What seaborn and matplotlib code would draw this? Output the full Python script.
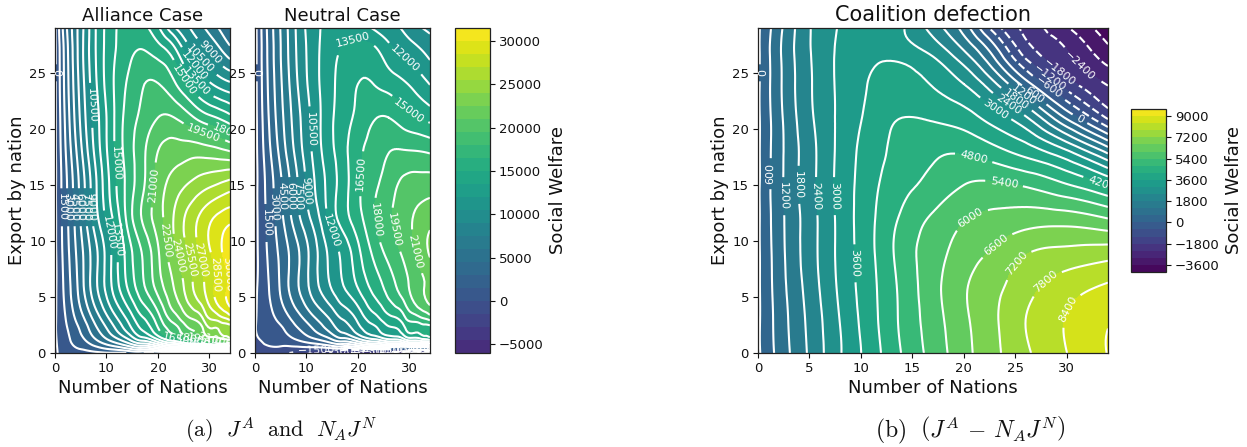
import numpy as np
import matplotlib
matplotlib.use("Agg")
import matplotlib.pyplot as plt
from matplotlib.colors import Normalize
from matplotlib.tri import Triangulation, UniformTriRefiner
import seaborn as sns

NATIONS = [0, 2, 5, 8, 11, 14, 17, 20, 23, 26, 29, 32, 34]
EXPORTS_FINE = [0, 1, 2, 3, 6, 9, 12, 15, 18, 21, 24, 27, 29]
EXPORTS_COARSE = [0, 3, 6, 9, 12, 15, 18, 21, 24, 26, 27, 29]

ALLIANCE = [
    [-200, 480, 890, 1165, 1400, 1530, 1630, 1700, 1770, 1000, 300, -300, -700],
    [-160, 880, 2410, 4090, 5870, 7830, 9960, 12120, 14390, 16420, 18250, 19930, 21000],
    [-130, 1160, 3130, 5610, 8110, 10790, 13490, 16150, 18540, 20770, 22770, 24070, 24680],
    [-180, 1430, 3850, 6630, 9390, 12070, 14720, 17280, 20020, 22200, 24290, 26120, 27250],
    [-300, 1930, 5275, 8780, 12010, 15060, 17690, 20170, 22500, 24860, 27000, 29100, 30300],
    [-300, 2180, 5520, 8720, 12090, 15550, 18130, 20800, 23500, 25600, 27700, 29650, 31200],
    [-300, 2360, 6150, 10020, 13290, 16800, 19650, 21800, 24000, 26000, 27700, 28950, 29500],
    [-300, 2550, 6480, 10400, 14020, 16880, 19190, 21600, 23100, 24130, 25000, 25700, 26200],
    [-300, 2880, 7170, 11070, 14420, 17130, 19100, 21000, 21700, 21900, 21800, 21400, 21000],
    [-300, 3200, 7770, 11430, 14490, 17000, 18420, 19500, 19550, 18500, 17200, 16300, 15500],
    [-300, 3450, 8120, 11880, 14700, 16600, 17900, 18050, 16850, 14700, 12800, 11400, 10800],
    [-300, 3580, 8360, 12100, 14550, 15980, 16550, 15750, 14100, 11000, 9320, 7750, 6500],
    [-300, 3940, 8320, 12100, 14450, 15800, 15450, 13800, 10850, 9100, 7550, 5830, 4500],
]

NEUTRAL = [
    [-100, -300, -1000, -1800, -2500, -3300, -4000, -4700, -5300, -5700, -6200, -6600, -7000],
    [-60, 80, 500, 1100, 1950, 3000, 4300, 5700, 7300, 8700, 10000, 11200, 12000],
    [-30, 350, 1200, 2600, 4150, 5900, 7800, 9700, 11400, 13000, 14500, 15350, 15700],
    [-80, 600, 1900, 3600, 5400, 7150, 9000, 10800, 12700, 14400, 16000, 17400, 18300],
    [-300, 1040, 3225, 5650, 7970, 10100, 11900, 13650, 15500, 17200, 18900, 20700, 21400],
    [-500, 1250, 3400, 5550, 8000, 10500, 12400, 14600, 16800, 18500, 19850, 21500, 22700],
    [-500, 1400, 4030, 6840, 9200, 11900, 14150, 15950, 17800, 19270, 20400, 21450, 22000],
    [-500, 1550, 4300, 7200, 10000, 12260, 14200, 16200, 17600, 18800, 19900, 20200, 20300],
    [-500, 1900, 5000, 7900, 10500, 12700, 14400, 16100, 17100, 17950, 18100, 18000, 17800],
    [-500, 2200, 5500, 8300, 10700, 12800, 14300, 15400, 16350, 16500, 15700, 15000, 14500],
    [-500, 2400, 5800, 8750, 11050, 12800, 14100, 15000, 15000, 14400, 13700, 12700, 11950],
    [-500, 2500, 6000, 9000, 11150, 12700, 13600, 13950, 13850, 12500, 11500, 10650, 9950],
    [-500, 2600, 6100, 9100, 11250, 12400, 13000, 13050, 11850, 11100, 10250, 9150, 8700],
]

COALITION = [
    [-100, 780, 1890, 2965, 3900, 4830, 5630, 6400, 7070, 7700, 8230, 8720, 9020],
    [-100, 830, 1950, 3030, 3990, 4920, 5720, 6480, 7120, 7800, 8290, 8720, 8950],
    [-100, 890, 2050, 3130, 4040, 4960, 5790, 6520, 7040, 7560, 7990, 8300, 8470],
    [-100, 930, 2120, 3170, 4090, 5050, 5730, 6280, 6700, 7150, 7330, 7430, 7500],
    [-100, 960, 2120, 3180, 4090, 4900, 5500, 5950, 6150, 6300, 6330, 6200, 6000],
    [-100, 1000, 2180, 3200, 4020, 4620, 4990, 5400, 5500, 5330, 4980, 4550, 4150],
    [-100, 980, 2170, 3170, 3920, 4430, 4700, 4720, 4400, 3950, 3350, 2400, 1600],
    [-100, 1000, 2270, 3130, 3790, 4200, 4120, 3880, 3300, 2480, 1000, -420, -1300],
    [-100, 1050, 2320, 3130, 3650, 3800, 3560, 3000, 1900, 300, -1150, -2050, -2430],
    [-100, 1060, 2340, 3120, 3520, 3570, 3150, 2250, 750, -1050, -2000, -2650, -3150],
    [-100, 1080, 2360, 3100, 3400, 3280, 2800, 1800, 250, -1500, -2180, -2900, -3450],
    [-100, 1000, 2360, 3040, 3220, 3040, 2150, 950, -900, -1950, -2700, -3450, -4000],
]

LEFT_LEVELS = list(range(-6000, 31501, 1500))
RIGHT_LEVELS = list(range(-4200, 9601, 600))
LEFT_TICKS = list(range(-5000, 30001, 5000))
RIGHT_TICKS = list(range(-3600, 9001, 1800))

# where each contour carries its inline label: level -> spots in data units
ALLIANCE_LABELS = {
    0: [(0.4, 25)], 1500: [(1.2, 13)], 3000: [(2.3, 13)], 4500: [(3.2, 13)],
    6000: [(4.4, 13)], 7500: [(5.5, 13)], 9000: [(7.1, 13), (30.1, 26.8)],
    10500: [(7.1, 22.1), (27.8, 26)], 12000: [(10, 10.7), (26.5, 25.4)],
    13500: [(12, 10.1), (27.5, 24.2)], 15000: [(11.7, 16.9), (25.5, 24.5)],
    16500: [(24.5, 1.6)], 18000: [(27, 1.2), (33.1, 19)], 19500: [(28.9, 19.6), (29, 1.1)],
    21000: [(19, 15), (31, 1)], 22500: [(21.4, 10.1)], 24000: [(23.4, 8.6)],
    25500: [(24.7, 8.2)], 27000: [(27.9, 8.3)], 28500: [(30.8, 7)], 30000: [(33.1, 7)],
}
NEUTRAL_LABELS = {
    0: [(0.4, 25), (28, 0.4)], 1500: [(2.1, 11.6), (30, 0.5)], 3000: [(3.7, 13), (32, 0.5)],
    4500: [(5.2, 14)], 6000: [(6.8, 14)], 7500: [(8.6, 14)], 9000: [(10.4, 14.5)],
    10500: [(10.9, 20)], 12000: [(15.2, 11), (28.3, 25.8)], 13500: [(19, 28)],
    15000: [(30.3, 21.8)], 16500: [(20.5, 16)], 18000: [(24.4, 11.9)],
    19500: [(27.3, 11)], 21000: [(30.8, 9)],
    -1500: [(12, 0.3), (26, 0.35)], -3000: [(17, 0.2), (24, 0.3)], -4500: [(22, 0.1)],
}
COALITION_LABELS = {
    -2400: [(31.4, 25.8)], -1800: [(29.4, 25.2)], -1200: [(28.3, 24.5)], -600: [(28.3, 23.7)],
    0: [(0.2, 25), (31.4, 21.1)], 600: [(1.3, 16), (26.8, 23)], 1200: [(2.7, 14), (26.1, 23.4)],
    1800: [(4.1, 15), (25.3, 22.9)], 2400: [(5.8, 14), (24.4, 22.3)], 3000: [(7.5, 14), (23, 21.7)],
    3600: [(9.5, 8)], 4200: [(33.3, 15)], 4800: [(21, 17.6)], 5400: [(23.9, 15.1)],
    6000: [(20.7, 12)], 6600: [(22.9, 10)], 7200: [(25.1, 8)], 7800: [(27.8, 6.5)], 8400: [(29.9, 4)],
}

sns.set_theme(style="ticks", rc={"font.family": "DejaVu Sans", "axes.edgecolor": "#222222",
                                 "axes.linewidth": 0.9, "xtick.color": "#111111", "ytick.color": "#111111",
                                 "text.color": "#111111", "axes.labelcolor": "#111111"})
viridis = sns.color_palette("viridis", as_cmap=True)

W, H = 1247, 447
fig = plt.figure(figsize=(W / 100, H / 100), dpi=100)


def box(x0, x1, y0, y1):
    return [x0 / W, 1 - y1 / H, (x1 - x0) / W, (y1 - y0) / H]


def fmt(value):
    return f"{value:.0f}".replace("-", "\u2212")


def panel(rect, ys, grid, levels, norm, title, title_size, xticks, labels, ylabel=True):
    ax = fig.add_axes(rect)
    z = np.array(grid, dtype=float)
    mx, my = np.meshgrid(NATIONS, ys)
    mesh = Triangulation(mx.ravel(), my.ravel())
    fine, zf = UniformTriRefiner(mesh).refine_field(z.ravel(), subdiv=3)
    filled = ax.tricontourf(fine, zf, levels=levels, cmap=viridis, norm=norm)
    ax.set_xlim(0, 34)
    ax.set_ylim(0, 29)
    for level in levels:
        if not zf.min() < level < zf.max():
            continue
        line = ax.tricontour(fine, zf, levels=[level], colors="white", linewidths=1.5)
        if level in labels:
            line.clabel(manual=labels[level], inline=True, fontsize=8, colors="white", fmt=fmt)
    for text in ax.texts:
        text.set_clip_on(True)
        text.set_clip_box(ax.bbox)
    ax.set_xticks(xticks)
    ax.set_yticks([0, 5, 10, 15, 20, 25])
    ax.tick_params(labelsize=9.5, length=3.5, width=0.8, pad=3)
    ax.set_title(title, fontsize=title_size, pad=5)
    ax.set_xlabel("Number of Nations", fontsize=13, labelpad=3)
    if ylabel:
        ax.set_ylabel("Export by nation", fontsize=13, labelpad=2)
    return filled


def bar(rect, filled, ticks):
    cax = fig.add_axes(rect)
    cb = fig.colorbar(filled, cax=cax, ticks=ticks)
    cb.ax.tick_params(labelsize=9.5, length=3.5, width=0.8, pad=3)
    cb.set_label("Social Welfare", fontsize=13, labelpad=4)
    return cb


left_norm = Normalize(-10700, 31500)
right_norm = Normalize(-4200, 9600)

a = panel(box(55, 230, 28, 353), EXPORTS_FINE, ALLIANCE, LEFT_LEVELS, left_norm,
          "Alliance Case", 13, [0, 10, 20, 30], ALLIANCE_LABELS)
n = panel(box(255, 430, 28, 353), EXPORTS_FINE, NEUTRAL, LEFT_LEVELS, left_norm,
          "Neutral Case", 13, [0, 10, 20, 30], NEUTRAL_LABELS, ylabel=False)
bar(box(455, 490, 28, 353), a, LEFT_TICKS)

c = panel(box(758, 1108, 28, 353), EXPORTS_COARSE, COALITION, RIGHT_LEVELS, right_norm,
          "Coalition defection", 15, [0, 5, 10, 15, 20, 25, 30], COALITION_LABELS)
bar(box(1131, 1166, 109, 272), c, RIGHT_TICKS)

fig.text(281 / W, 1 - 430 / H, r"$\mathrm{(a)}\ \ J^A\ \ \mathrm{and}\ \ N_AJ^N$",
         ha="center", va="center", fontsize=16, math_fontfamily="cm", color="#111111")
fig.text(970 / W, 1 - 430 / H, r"$\mathrm{(b)}\ \ \left(J^A\,-\,N_AJ^N\right)$",
         ha="center", va="center", fontsize=17, math_fontfamily="cm", color="#111111")

fig.savefig("out.png", dpi=100)
